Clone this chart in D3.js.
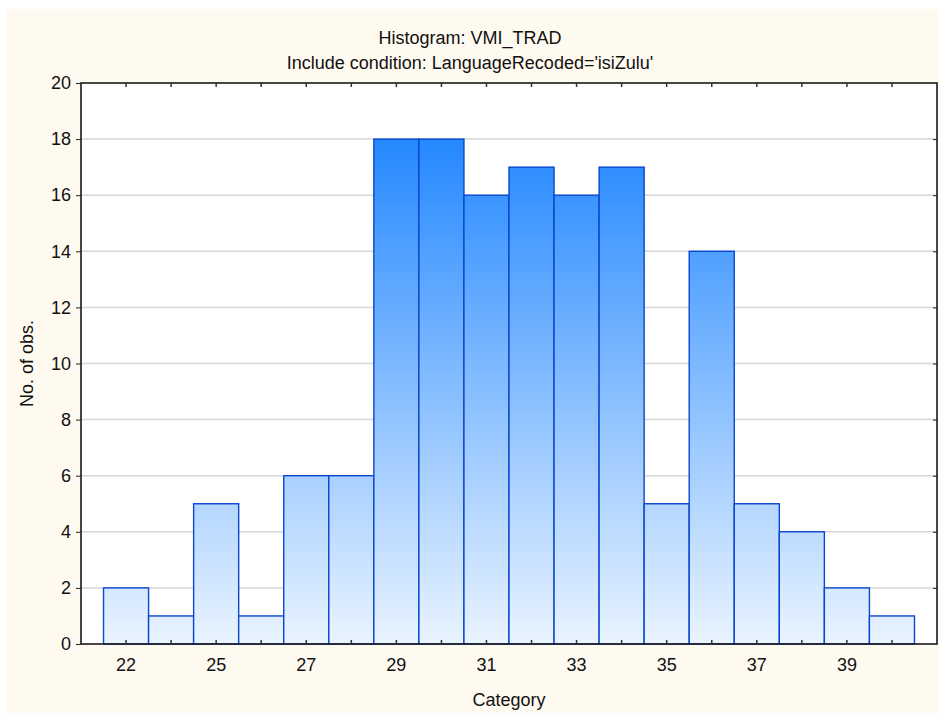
<!DOCTYPE html>
<html>
<head>
<meta charset="utf-8">
<script src="https://cdn.jsdelivr.net/npm/d3@7"></script>
<style>
  html, body { margin: 0; padding: 0; background: #ffffff; }
  svg { display: block; }
  text { font-family: "Liberation Sans", Arial, sans-serif; fill: #111; }
</style>
</head>
<body>
<script>
// ---- data ----
const categories = ["22","24","25","26","27","28","29","30","31","32","33","34","35","36","37","38","39","40"];
const counts     = [2, 1, 5, 1, 6, 6, 18, 18, 16, 17, 16, 17, 5, 14, 5, 4, 2, 1];
const xTickLabels = ["22","25","27","29","31","33","35","37","39"];
const yTicks = [0, 2, 4, 6, 8, 10, 12, 14, 16, 18, 20];
const titleText = "Histogram: VMI_TRAD";
const subtitleText = "Include condition: LanguageRecoded='isiZulu'";
const xTitle = "Category";
const yTitle = "No. of obs.";

// ---- layout ----
const W = 939, H = 713;
const plot = { left: 81, top: 83, right: 937, bottom: 644 };

const svg = d3.select("body").append("svg").attr("width", W).attr("height", H);

// background panel
svg.append("rect").attr("x", 7).attr("y", 9).attr("width", W - 7).attr("height", H - 9)
  .attr("fill", "#fffaf0");

// plot area
svg.append("rect").attr("x", plot.left).attr("y", plot.top)
  .attr("width", plot.right - plot.left).attr("height", plot.bottom - plot.top)
  .attr("fill", "#ffffff");

const x = d3.scaleBand().domain(categories).range([plot.left, plot.right])
  .paddingInner(0).paddingOuter(0.5);
const y = d3.scaleLinear().domain([0, 20]).range([plot.bottom, plot.top]);

// gradient
const defs = svg.append("defs");
const grad = defs.append("linearGradient").attr("id", "barGrad")
  .attr("gradientUnits", "userSpaceOnUse")
  .attr("x1", 0).attr("x2", 0).attr("y1", y(20)).attr("y2", y(0));
grad.append("stop").attr("offset", 0).attr("stop-color", "#0e7cff");
grad.append("stop").attr("offset", 1).attr("stop-color", "#eaf4ff");

// gridlines
svg.append("g").selectAll("line").data(yTicks.filter(d => d > 0 && d < 20)).join("line")
  .attr("x1", plot.left).attr("x2", plot.right)
  .attr("y1", d => y(d)).attr("y2", d => y(d))
  .attr("stroke", "#d6d6d6").attr("stroke-width", 1.5);

// bars
svg.append("g").selectAll("rect").data(counts).join("rect")
  .attr("x", (d, i) => x(categories[i]))
  .attr("y", d => y(d))
  .attr("width", x.bandwidth())
  .attr("height", d => y(0) - y(d))
  .attr("fill", "url(#barGrad)")
  .attr("stroke", "#0a46d0")
  .attr("stroke-width", 1.4);

// frame
svg.append("rect").attr("x", plot.left).attr("y", plot.top)
  .attr("width", plot.right - plot.left).attr("height", plot.bottom - plot.top)
  .attr("fill", "none").attr("stroke", "#1a1a1a").attr("stroke-width", 1.6);

// axes
const leftAxis = d3.axisLeft(y).tickValues(yTicks).tickSize(5).tickPadding(5).tickFormat(d3.format("d"));
const gL = svg.append("g").attr("transform", `translate(${plot.left},0)`).call(leftAxis);
gL.select(".domain").remove();
gL.selectAll("text").attr("font-size", 18).attr("fill", "#111");
gL.selectAll("line").attr("stroke", "#222");

const rightAxis = d3.axisLeft(y).tickValues(yTicks.filter(d => d > 0 && d < 20)).tickSize(-4).tickFormat("");
const gR = svg.append("g").attr("transform", `translate(${plot.right},0)`).call(rightAxis);
gR.select(".domain").remove();
gR.selectAll("line").attr("stroke", "#222").attr("transform", "scale(-1,1)");

const bottomAxis = d3.axisBottom(x).tickSize(-4).tickPadding(14)
  .tickFormat(d => xTickLabels.includes(d) ? d : "");
const gB = svg.append("g").attr("transform", `translate(0,${plot.bottom})`).call(bottomAxis);
gB.select(".domain").remove();
gB.selectAll("text").attr("font-size", 18).attr("fill", "#111");
gB.selectAll("line").attr("stroke", "#333").attr("stroke-width", 1.5);

const topAxis = d3.axisTop(x).tickSize(-4).tickFormat("");
const gT = svg.append("g").attr("transform", `translate(0,${plot.top})`).call(topAxis);
gT.select(".domain").remove();
gT.selectAll("line").attr("stroke", "#333").attr("stroke-width", 1.5);

// titles
svg.append("text").attr("x", 470).attr("y", 44).attr("text-anchor", "middle")
  .attr("font-size", 18).text(titleText);
svg.append("text").attr("x", 470).attr("y", 69).attr("text-anchor", "middle")
  .attr("font-size", 18).text(subtitleText);
svg.append("text").attr("x", (plot.left + plot.right) / 2).attr("y", 706).attr("text-anchor", "middle")
  .attr("font-size", 18).text(xTitle);
svg.append("text").attr("transform", `translate(33,${(plot.top + plot.bottom) / 2}) rotate(-90)`)
  .attr("text-anchor", "middle").attr("font-size", 18).text(yTitle);
</script>
</body>
</html>
